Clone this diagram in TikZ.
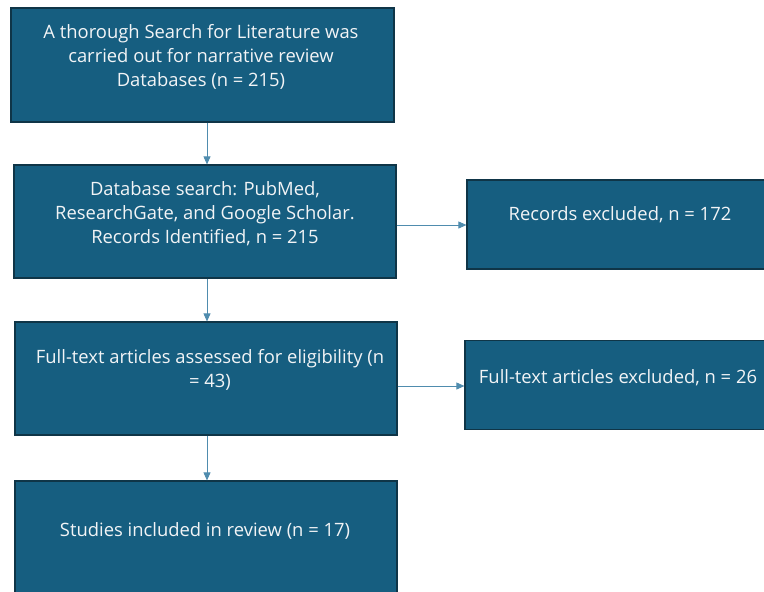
\documentclass[tikz,border=0pt]{standalone}
\usepackage{fontspec}
\setmainfont{Open Sans}
\usetikzlibrary{arrows.meta}
\definecolor{boxfill}{HTML}{165E80}
\definecolor{boxline}{HTML}{0F3547}
\definecolor{arrline}{HTML}{4F8CAE}
\definecolor{boxtext}{HTML}{F2F4F6}
\tikzset{
  flowbox/.style={draw=boxline, line width=1.2pt, fill=boxfill, rectangle, inner sep=0pt},
  flowtext/.style={text=boxtext, align=center, inner sep=0pt,
    font=\fontsize{18.4}{24}\selectfont},
  flowarrow/.style={draw=arrline, line width=0.8pt,
    -{Triangle[length=8pt,width=7pt]}}
}
\begin{document}
\begin{tikzpicture}[x=1pt,y=-1pt]
\useasboundingbox (0,0) rectangle (764,592);
\clip (0,0) rectangle (764,592);
% main column
\node[flowbox, minimum width=383pt, minimum height=114pt] (b1) at (202.5,65) {};
\node[flowbox, minimum width=382pt, minimum height=113pt] (b2) at (205,221.5) {};
\node[flowbox, minimum width=382pt, minimum height=113pt] (b3) at (206,378.5) {};
\node[flowbox, minimum width=382pt, minimum height=113pt] (b4) at (206,537.5) {};
% exclusion boxes
\node[flowbox, minimum width=306pt, minimum height=89pt] (r1) at (620,224.5) {};
\node[flowbox, minimum width=308pt, minimum height=89pt] (r2) at (619,385) {};
% texts
\node[flowtext] (t1) at (201,57) {A thorough Search for Literature was\\carried out for narrative review\\Databases (n = 215)};
\node[flowtext] (t2) at (205,214) {Database search: PubMed,\\ResearchGate, and Google Scholar.\\Records Identified, n = 215};
\node[flowtext] (t3) at (210,370) {Full-text articles assessed for eligibility (n\\= 43)};
\node[flowtext] (t4) at (205,531) {Studies included in review (n = 17)};
\node[flowtext] (t5) at (620,215) {Records excluded, n = 172};
\node[flowtext] (t6) at (618,378) {Full-text articles excluded, n = 26};
% connectors
\coordinate (vx) at (207,0);
\coordinate (h1) at (0,225);
\coordinate (h2) at (0,386);
\draw[flowarrow] (b1.south -| vx) -- (b2.north -| vx);
\draw[flowarrow] (b2.south -| vx) -- (b3.north -| vx);
\draw[flowarrow] (b3.south -| vx) -- (b4.north -| vx);
\draw[flowarrow] (b2.east |- h1) -- (r1.west |- h1);
\draw[flowarrow] (b3.east |- h2) -- (r2.west |- h2);
\end{tikzpicture}
\end{document}
